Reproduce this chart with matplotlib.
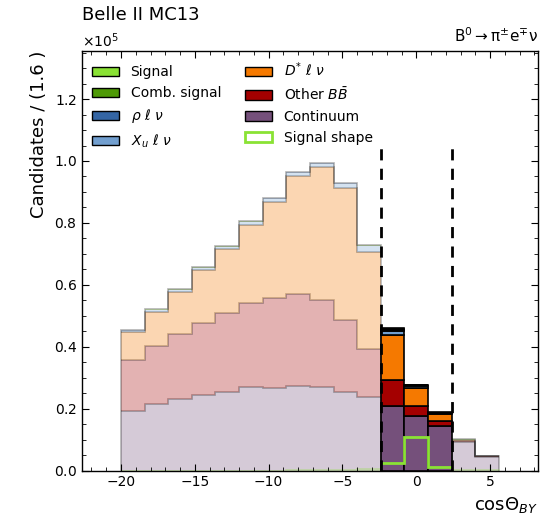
import matplotlib
matplotlib.use("Agg")
import matplotlib.pyplot as plt
import numpy as np
from matplotlib.patches import Patch
from matplotlib.ticker import MultipleLocator

################################### Data (counts per 1.6 bin)

edges = np.arange(-20, 5.61, 1.6)   # 16 bins from -20 to 5.6
window = (-2.4, 2.4)

continuum = [19100, 21400, 23000, 24400, 25500, 26900, 26800, 27200, 26900, 25300, 23700, 21000, 17700, 14500, 9200, 4500]
other_bb  = [16700, 18800, 21000, 23400, 25300, 27100, 29100, 30000, 28200, 23400, 15600, 8300, 3300, 1500, 300, 100]
dstar     = [9000, 11000, 13800, 17000, 20800, 25300, 31000, 37900, 42800, 42500, 31400, 14500, 5600, 2200, 300, 50]
xu        = [400, 700, 600, 700, 700, 1000, 950, 1100, 1200, 1450, 1700, 1400, 650, 300, 200, 80]
rho       = [50, 80, 80, 80, 70, 120, 110, 120, 130, 150, 200, 350, 250, 150, 20, 10]
comb      = [30, 50, 50, 50, 50, 80, 70, 90, 90, 120, 150, 250, 150, 100, 20, 5]
signal    = [20, 30, 30, 40, 40, 60, 60, 80, 80, 100, 120, 200, 120, 100, 20, 5]
signal_shape = [0, 0, 0, 0, 0, 0, 0, 100, 200, 300, 600, 2400, 11000, 1300, 300, 50]

# bottom -> top
components = [continuum, other_bb, dstar, xu, rho, comb, signal]
colors = ['#75507b', '#a40000', '#f57900', '#729fcf', '#3465a4', '#4e9a06', '#8ae234']
outlined = [True, True, True, False, False, False, False]   # faded layers that get a step line

################################### Plot

fig = plt.figure(figsize=(5.54, 5.16), dpi=100)
ax = fig.add_axes([0.148, 0.088, 0.823, 0.813])

centers = 0.5 * (edges[:-1] + edges[1:])
inside = (centers > window[0]) & (centers < window[1])
sides = [np.where(centers < window[0])[0], np.where(centers > window[1])[0]]

bottom = np.zeros(len(edges) - 1)
for vals, col, line in zip(components, colors, outlined):
    vals = np.array(vals, dtype=float)
    top = bottom + vals
    # faded parts outside the window
    for sel in sides:
        e = edges[sel[0]:sel[-1] + 2]
        ax.stairs(top[sel], e, baseline=bottom[sel], fill=True, color=col, alpha=0.3, lw=0)
        if line:
            ax.stairs(top[sel], e, baseline=None, color='k', alpha=0.3, lw=1.2)
    # full colour inside the window
    ax.bar(centers[inside], vals[inside], width=1.6, bottom=bottom[inside],
           color=col, edgecolor='k', lw=1.2, zorder=3)
    bottom = top

# outer outline of the faded totals
for sel in sides:
    ax.stairs(bottom[sel], edges[sel[0]:sel[-1] + 2], baseline=0, color='k', alpha=0.3, lw=1.2)

# signal shape
shape = np.array(signal_shape, dtype=float)
for sel in sides:
    ax.stairs(shape[sel], edges[sel[0]:sel[-1] + 2], baseline=None, color='#8ae234', lw=2, alpha=0.3)
sel = np.where(inside)[0]
ax.stairs(shape[sel], edges[sel[0]:sel[-1] + 2], baseline=None, color='#8ae234', lw=2, zorder=4)

# signal window
ax.vlines(window, 0, 1.06e5, colors='k', linestyles=(0, (4, 3)), lw=2, zorder=5)

################################### Axes

ax.set_xlim(-22.64, 8.24)
ax.set_ylim(0, 1.355e5)
ax.xaxis.set_minor_locator(MultipleLocator(1))
ax.yaxis.set_major_locator(MultipleLocator(0.2e5))
ax.yaxis.set_minor_locator(MultipleLocator(0.05e5))
ax.ticklabel_format(axis='y', style='sci', scilimits=(0, 0), useMathText=True)
ax.yaxis.get_offset_text().set_fontsize(10)
ax.tick_params(which='both', direction='in', top=True, right=True, labelsize=10)
ax.tick_params(which='major', length=5)
ax.tick_params(which='minor', length=3)
for s in ax.spines.values():
    s.set_linewidth(1.0)

ax.set_xlabel(r'cos$\Theta_{BY}$', loc='right', fontsize=13)
ax.set_ylabel('Candidates / (1.6 )', loc='top', fontsize=13)

fig.text(0.148, 0.97, 'Belle II MC13', fontsize=13, ha='left', va='center')
ax.text(1.0, 1.015, r'$\mathrm{B^0 \rightarrow \pi^{\pm} e^{\mp} \nu}$', transform=ax.transAxes,
        ha='right', va='bottom', fontsize=11)

labels = ['Signal', 'Comb. signal', r'$\rho\ \ell\ \nu$', r'$X_u\ \ell\ \nu$',
          r'$D^{*}\ \ell\ \nu$', r'Other $B\bar{B}$', 'Continuum', 'Signal shape']
handle_cols = ['#8ae234', '#4e9a06', '#3465a4', '#729fcf', '#f57900', '#a40000', '#75507b']
handles = [Patch(facecolor=c, edgecolor='k', lw=1) for c in handle_cols]
handles.append(Patch(facecolor='white', edgecolor='#8ae234', lw=2))
ax.legend(handles, labels, loc='upper left', ncol=2, frameon=False, fontsize=10,
          borderaxespad=0.3, columnspacing=1.7)

fig.savefig('out.png', dpi=100)
